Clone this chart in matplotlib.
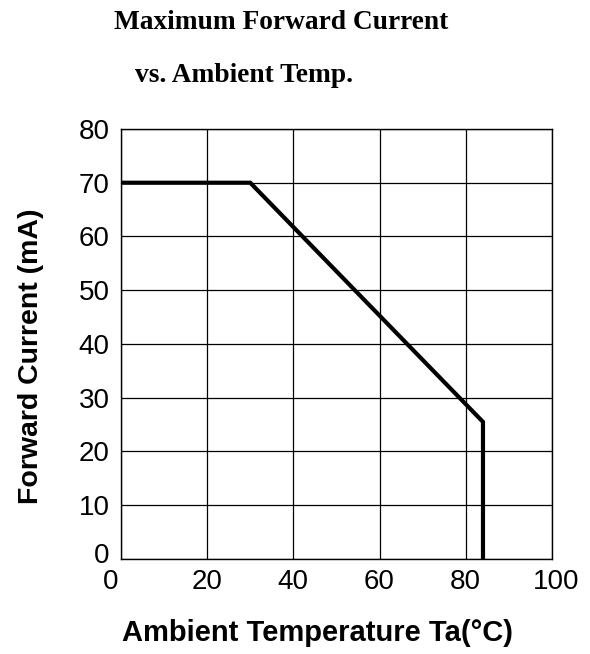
import numpy as np
import matplotlib
matplotlib.use('Agg')
import matplotlib.pyplot as plt
import matplotlib.transforms as mtransforms

# derating curve
temp_c = [0, 30, 84, 84]
current_ma = [70, 70, 25.5, 0]

x_ticks = [0, 20, 40, 60, 80, 100]
y_ticks = [0, 10, 20, 30, 40, 50, 60, 70, 80]

title_lines = ['Maximum Forward Current', 'vs. Ambient Temp.']
x_label = 'Ambient Temperature Ta(°C)'
y_label = 'Forward Current (mA)'

plt.rcParams['font.family'] = ['Liberation Sans', 'DejaVu Sans']

fig = plt.figure(figsize=(5.9, 6.54), dpi=100)
ax = fig.add_axes([0.205, 0.1453, 0.7305, 0.6575])

ax.plot(temp_c, current_ma, color='black', linewidth=3, solid_capstyle='butt',
        solid_joinstyle='miter', zorder=3, clip_on=False)

ax.set_xlim(0, 100)
ax.set_ylim(0, 80)
ax.set_xticks(x_ticks)
ax.set_yticks(y_ticks)
ax.tick_params(length=0, labelsize=20)
ax.tick_params(axis='x', pad=7)
ax.tick_params(axis='y', pad=8)
ax.grid(True, color='black', linewidth=0.9)
for s in ax.spines.values():
    s.set_linewidth(1.0)


def nudge(label, dx_px, dy_px):
    label.set_transform(label.get_transform() +
                        mtransforms.ScaledTranslation(dx_px / 100, dy_px / 100,
                                                      fig.dpi_scale_trans))


# the corner labels are offset a little in the original
xlabels = ax.get_xticklabels()
nudge(xlabels[0], -10, 0)
nudge(xlabels[-1], 4, 0)
ylabels = ax.get_yticklabels()
nudge(ylabels[0], 0, 6)

ax.set_xlabel(x_label, fontsize=21, fontweight='bold')
ax.xaxis.set_label_coords(0.457, -0.172)
ax.xaxis.label.set_va('center')
ax.set_ylabel(y_label, fontsize=20.5, fontweight='bold')
ax.yaxis.set_label_coords(-0.208, 0.471)
ax.yaxis.label.set_va('center')

fig.text(281 / 590, 1 - 29 / 654, title_lines[0], ha='center', va='baseline',
         fontsize=19.7, fontweight='bold', family='Liberation Serif')
fig.text(244 / 590, 1 - 82 / 654, title_lines[1], ha='center', va='baseline',
         fontsize=19.7, fontweight='bold', family='Liberation Serif')

fig.savefig('out.png', dpi=100)
